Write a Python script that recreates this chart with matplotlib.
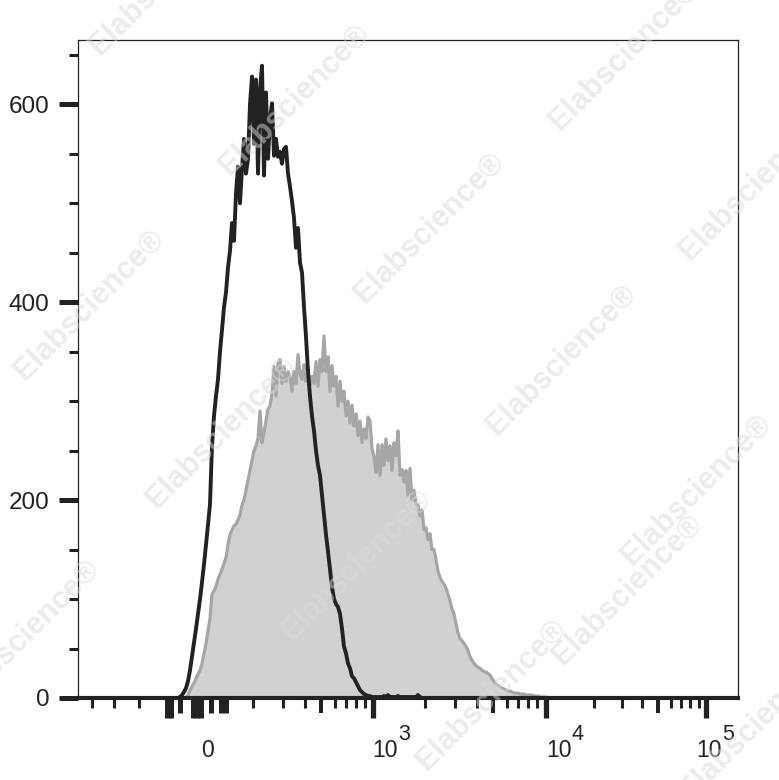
import numpy as np
import matplotlib
matplotlib.use("Agg")
import matplotlib.pyplot as plt
from matplotlib.transforms import blended_transform_factory

plt.rcParams['font.family'] = ['Liberation Sans', 'DejaVu Sans']

# ---------------- data (histogram counts per display channel) ----------------
# display channels are uniform bins of the biexponential display scale
black_first_channel = 178
black_counts = [
    0, 1, 3, 6, 10, 17, 28, 42, 56, 70,            # 178-196
    85, 100, 117, 135, 155, 175, 196, 255, 285, 305,  # 198-216
    322, 350, 372, 395, 410, 435, 452, 480, 462, 510,  # 218-236
    537, 500, 535, 565, 530, 545, 600, 628, 560, 625,  # 238-256
    530, 615, 639, 528, 612, 545, 585, 601, 548, 565,  # 258-276
    547, 552, 540, 555, 557, 530, 517, 502, 485, 455,  # 278-296
    475, 440, 430, 395, 365, 330, 305, 285, 270, 250,  # 298-316
    235, 225, 205, 185, 165, 148, 130, 112, 100, 95,   # 318-336
    92, 85, 70, 52, 45, 35, 30, 22, 20, 16,            # 338-356
    12, 8, 6, 4, 3, 2, 2, 1, 1, 1,                     # 358-376
    1, 1, 1, 2, 1, 3, 1, 1, 1, 1,                      # 378-396
    2, 1, 1, 1, 1, 1, 1, 1, 1, 1,                      # 398-416
    3, 1, 0, 0,                                        # 418-424
]

gray_first_channel = 186
gray_counts = [
    0, 3, 8, 12, 15, 20, 24, 28, 35, 45,               # 186-204
    55, 68, 80, 105, 108, 113, 120, 125, 130, 136,     # 206-224
    142, 155, 165, 170, 174, 176, 180, 185, 195, 200,  # 226-244
    210, 220, 230, 240, 250, 255, 262, 290, 258, 268,  # 246-264
    280, 292, 295, 308, 335, 305, 338, 342, 318, 335,  # 266-284
    320, 330, 325, 310, 330, 318, 347, 328, 322, 337,  # 286-304
    320, 332, 316, 325, 318, 340, 315, 342, 330, 366,  # 306-324
    330, 345, 310, 336, 315, 325, 295, 320, 300, 310,  # 326-344
    285, 300, 278, 296, 275, 287, 265, 280, 258, 272,  # 346-364
    262, 284, 280, 252, 244, 228, 256, 225, 256, 235,  # 366-384
    262, 240, 255, 230, 258, 245, 270, 225, 231, 218,  # 386-404
    230, 205, 232, 200, 210, 196, 195, 184, 190, 170,  # 406-424
    172, 160, 166, 150, 150, 140, 128, 122, 118, 115,  # 426-444
    111, 105, 98, 90, 85, 75, 66, 60, 58, 55,          # 446-464
    52, 48, 42, 38, 35, 33, 31, 30, 28, 27,            # 466-484
    26, 25, 23, 20, 17, 14, 13, 11, 10, 9,             # 486-504
    8, 7, 7, 6, 5, 5, 5, 4, 4, 4,                      # 506-524
    3, 3, 3, 3, 2, 2, 2, 1, 1, 1, 1, 0,                # 526-548
]

y_major = [0, 200, 400, 600]
y_minor = [50, 100, 150, 250, 300, 350, 450, 500, 550, 650]
x_decades = [1e3, 1e4, 1e5]
x_decade_exponents = ['3', '4', '5']


def disp(v):
    """fluorescence value -> display channel (biexponential display scale)"""
    v = np.asarray(v, dtype=float)
    return np.where(v >= 1e4, 546 + 160 * np.log10(v / 1e4),
                    373 + 172 * np.log10(v / 1e3))


ZERO_CH = 208
# ticks of the linear region around zero (display channels)
lin_long = [167, 171, 193, 197, 201]
lin_mid = [180, 211, 221, 226]
lin_short = [92, 114, 139]

x_black = black_first_channel + 2 * np.arange(len(black_counts))
x_gray = gray_first_channel + 2 * np.arange(len(gray_counts))

# ---------------- figure ----------------
W, H = 779, 780
fig = plt.figure(figsize=(W / 100, H / 100), dpi=100)
ax = fig.add_axes([78 / W, 82 / H, 660 / W, 658 / H])
ax.set_xlim(78, 738)
ax.set_ylim(0, 665)

ax.fill_between(x_gray, 0, gray_counts, color='#d1d1d1', lw=0, zorder=2)
ax.plot(x_gray, gray_counts, color='#a6a6a6', lw=2.3, zorder=3)

# watermarks
wm = [(165, -20), (295, 100), (430, 228), (562, 360), (697, 490),
      (90, 305), (222, 433), (357, 565), (492, 695), (625, 55), (755, 185),
      (25, 635), (628, 590), (755, 725)]
for (px, py) in wm:
    fig.text(px / W, 1 - py / H, 'Elabscience\u00ae', rotation=45, ha='center', va='center',
             fontsize=22, fontweight='bold', color='#dadada', alpha=0.5, zorder=4,
             family=['Liberation Sans', 'DejaVu Sans'])

ax.plot(x_black, black_counts, color='#222222', lw=2.8, zorder=5)

# spines
for s in ['left', 'top', 'right']:
    ax.spines[s].set_linewidth(0.9)
    ax.spines[s].set_color('#222222')
ax.spines['bottom'].set_linewidth(3.0)
ax.spines['bottom'].set_color('#222222')
ax.spines['bottom'].set_zorder(6)

# y ticks
ax.set_yticks(y_major)
ax.set_yticklabels([str(v) for v in y_major])
ax.set_yticks(y_minor, minor=True)
ax.tick_params(axis='y', which='major', length=13.5, width=3.6, color='#222222',
               pad=7, labelsize=17.5, labelcolor='#222222')
ax.tick_params(axis='y', which='minor', length=6.5, width=2.2, color='#222222')

# x ticks
long_ticks = list(disp(x_decades))
mid_ticks = list(disp([500, 5000, 50000]))
short_vals = [v * m for v in (100, 1000, 10000) for m in (2, 3, 4, 6, 7, 8, 9)]
short_ticks = list(disp(short_vals)) + lin_short
ax.set_xticks(long_ticks)
ax.set_xticks(short_ticks, minor=True)
ax.tick_params(axis='x', which='major', length=14.4, width=3.8, color='#222222', labelbottom=False)
ax.tick_params(axis='x', which='minor', length=7.2, width=2.2, color='#222222')
tr = blended_transform_factory(ax.transData, ax.transAxes)
ax.vlines(mid_ticks, 0, -15 / 658, transform=tr, colors='#222222', lw=2.9, clip_on=False, zorder=6)
ax.vlines(lin_long, 0, -20 / 658, transform=tr, colors='#222222', lw=3.6, clip_on=False, zorder=6)
ax.vlines(lin_mid, 0, -15 / 658, transform=tr, colors='#222222', lw=3.6, clip_on=False, zorder=6)

# x tick labels
ybase = -(757 - 698) / 658
ysup = -(740 - 698) / 658
ax.text(ZERO_CH, ybase, '0', transform=tr, ha='center', va='baseline', fontsize=16.5, color='#222222')
offsets = [0, 1, -9]
for v, ex, off in zip(x_decades, x_decade_exponents, offsets):
    x0 = float(disp(v)) + off - 1
    ax.text(x0, ybase, '10', transform=tr, ha='left', va='baseline',
            fontsize=16.5, color='#222222')
    ax.text(x0 + 26, ysup, ex, transform=tr, ha='left', va='baseline',
            fontsize=15.5, color='#222222')

fig.savefig('out.png', dpi=100, facecolor='white')
